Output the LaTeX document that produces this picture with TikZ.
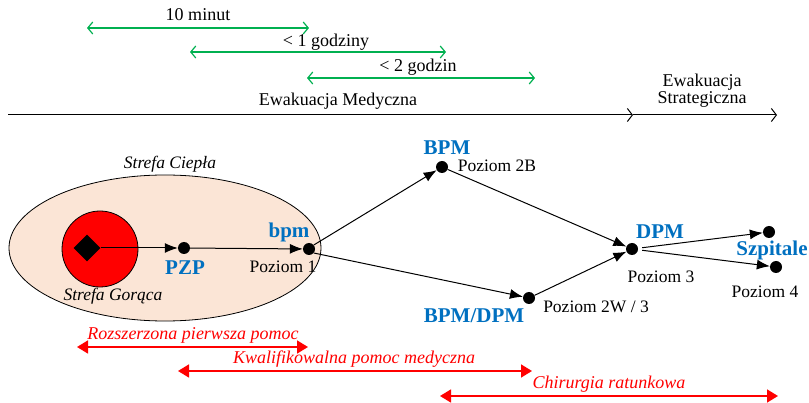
\documentclass[tikz,border=0pt]{standalone}
\usepackage{fontspec}
\setmainfont{Liberation Serif}
\usetikzlibrary{arrows.meta, shapes.geometric}

\definecolor{zielony}{RGB}{0,176,80}
\definecolor{niebieski}{RGB}{0,112,192}
\definecolor{brzoskwinia}{RGB}{251,229,214}

\begin{document}
\begin{tikzpicture}[x=1pt, y=-1pt,
	punkt/.style={circle, fill=black, inner sep=0pt, minimum size=12pt},
	poziom/.style={font=\fontsize{17.5}{20}\selectfont},
	nazwa/.style={font=\fontsize{21}{24}\selectfont\bfseries, text=niebieski},
	strefa/.style={font=\fontsize{17.5}{20}\selectfont\itshape},
	czas/.style={draw=zielony, line width=1.2pt, {Straight Barb[length=5pt,width=12pt]}-{Straight Barb[length=5pt,width=12pt]}},
	opis/.style={font=\fontsize{18}{20}\selectfont},
	pomoc/.style={draw=red, line width=1.6pt, {Triangle[length=11pt,width=13pt]}-{Triangle[length=11pt,width=13pt]}},
	etap/.style={line width=1pt, -{Straight Barb[length=5pt,width=13pt]}},
	strzalka/.style={line width=1pt, -{Latex[length=13pt,width=10pt]}}]
	\useasboundingbox (0,0) rectangle (809,403);

	% Time windows:
	\coordinate (m0) at (87,28);   \coordinate (m1) at (309,28);
	\coordinate (g10) at (190,52); \coordinate (g11) at (446,52);
	\coordinate (g20) at (307,78); \coordinate (g21) at (535,78);
	\draw[czas] (m0) -- (m1);
	\draw[czas] (g10) -- (g11);
	\draw[czas] (g20) -- (g21);
	\node[opis] (t10) at (198,15) {10 minut};
	\node[opis] (t1g) at (326,42) {< 1 godziny};
	\node[opis] (t2g) at (418,67) {< 2 godzin};

	% Evacuation axis:
	\coordinate (os0) at (8,115);
	\coordinate (os1) at (633,115);
	\coordinate (os2) at (777,115);
	\draw[etap] (os0) -- (os1);
	\draw[etap] (os1) -- (os2);
	\node[opis] (ewm) at (338,101) {Ewakuacja Medyczna};
	\node[opis, align=center] (ews) at (702,91) {Ewakuacja\\[-3pt]Strategiczna};

	% Zones:
	\draw[fill=brzoskwinia, line width=0.8pt] (165,248) ellipse [x radius=156, y radius=73];
	\node[strefa] (ciepla) at (170,164) {Strefa Ciepła};
	\draw[fill=red, line width=0.8pt] (100,249) circle [radius=38];
	\node[strefa] (goraca) at (113,296) {Strefa Gorąca};
	\node[diamond, fill=black, inner sep=0pt, minimum size=27pt] (zrodlo) at (87,248) {};

	% Points and levels:
	\node[punkt] (pzp) at (184,248) {};
	\node[punkt] (bpm) at (309,249) {};
	\node[punkt] (bpm2b) at (442,167) {};
	\node[punkt] (bpm2w) at (529,298) {};
	\node[punkt] (dpm) at (632,249) {};
	\node[punkt] (szp1) at (769,232) {};
	\node[punkt] (szp2) at (776,267) {};

	\node[nazwa] (lpzp) at (185,268) {PZP};
	\node[nazwa] (lbpm) at (289,232) {bpm};
	\node[poziom] (p1) at (283,267) {Poziom 1};
	\node[nazwa] (lbpm2b) at (447,148) {BPM};
	\node[poziom] (p2b) at (497,166) {Poziom 2B};
	\node[nazwa] (lbpm2w) at (474,316) {BPM/DPM};
	\node[poziom] (p2w) at (596,307) {Poziom 2W / 3};
	\node[nazwa] (ldpm) at (660,232) {DPM};
	\node[poziom] (p3) at (661,277) {Poziom 3};
	\node[nazwa] (lszp) at (772,250) {Szpitale};
	\node[poziom] (p4) at (765,292) {Poziom 4};

	\draw[strzalka] (zrodlo) -- (pzp);
	\draw[strzalka] (pzp) -- (bpm);
	\draw[strzalka] (bpm.40) -- (bpm2b);
	\draw[strzalka] (bpm.-40) -- (bpm2w);
	\draw[strzalka] (bpm2b) -- (dpm);
	\draw[strzalka] (bpm2w) -- (dpm);
	\draw[strzalka, shorten <=4pt] (dpm) -- (szp1);
	\draw[strzalka, shorten <=4pt] (dpm) -- (szp2);

	% Care levels:
	\coordinate (r0) at (77,347);  \coordinate (r1) at (308,347);
	\coordinate (k0) at (178,371); \coordinate (k1) at (532,371);
	\coordinate (c0) at (440,396); \coordinate (c1) at (778,396);
	\draw[pomoc] (r0) -- (r1);
	\draw[pomoc] (k0) -- (k1);
	\draw[pomoc] (c0) -- (c1);
	\node[strefa, text=red, font=\fontsize{18}{20}\selectfont\itshape] (trp) at (193,335) {Rozszerzona pierwsza pomoc};
	\node[strefa, text=red, font=\fontsize{18}{20}\selectfont\itshape] (tkp) at (354,359) {Kwalifikowalna pomoc medyczna};
	\node[strefa, text=red, font=\fontsize{18}{20}\selectfont\itshape] (tch) at (609,384) {Chirurgia ratunkowa};
\end{tikzpicture}
\end{document}
